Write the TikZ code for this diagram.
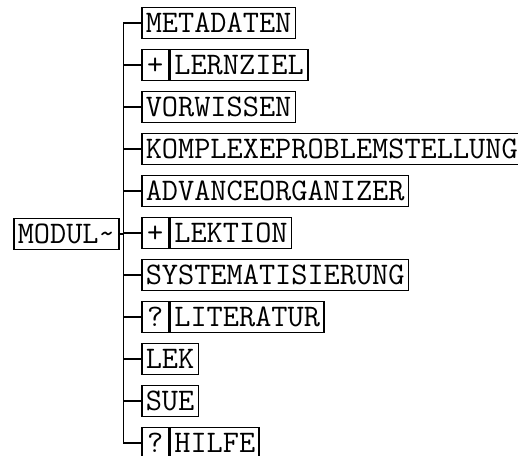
\documentclass[tikz,border=0pt]{standalone}
\usepackage{fontspec}
\setmonofont{Latin Modern Mono}
\newcommand{\boxfont}{\ttfamily\fontsize{31.4bp}{33bp}\selectfont}
\begin{document}
\begin{tikzpicture}[x=1bp,y=-1bp,
  box/.style={draw, line width=1.6bp, font=\boxfont, inner xsep=4bp, inner ysep=0pt,
    minimum height=31bp, text height=19.2bp, text depth=0pt, anchor=west},
  pre/.style={box, minimum width=27bp, inner xsep=0pt},
  link/.style={line width=1.6bp}]
\useasboundingbox (0,0) rectangle (518,456);
\node[box] (modul) at (13,234) {MODUL\textasciitilde};
\node[box] (c0) at (141,23) {METADATEN};
\node[pre] (c1) at (141,65) {+};
\node[box] (l1) at (c1.east) {LERNZIEL};
\node[box] (c2) at (141,107) {VORWISSEN};
\node[box] (c3) at (141,149) {KOMPLEXEPROBLEMSTELLUNG};
\node[box] (c4) at (141,191) {ADVANCEORGANIZER};
\node[pre] (c5) at (141,233) {+};
\node[box] (l5) at (c5.east) {LEKTION};
\node[box] (c6) at (141,275) {SYSTEMATISIERUNG};
\node[pre] (c7) at (141,317) {?};
\node[box] (l7) at (c7.east) {LITERATUR};
\node[box] (c8) at (141,359) {LEK};
\node[box] (c9) at (141,401) {SUE};
\node[pre] (c10) at (141,443) {?};
\node[box] (l10) at (c10.east) {HILFE};
\coordinate (t) at ([xshift=4bp]modul.east);
\foreach \k in {0,...,10}{
  \draw[link] (modul.east) -- (t) |- (c\k.west);
}
\end{tikzpicture}
\end{document}
